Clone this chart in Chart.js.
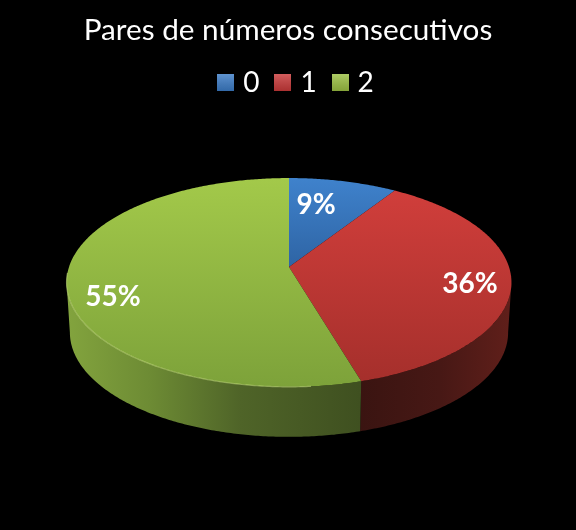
<!DOCTYPE html>
<html>
<head>
<meta charset="utf-8">
<style>
  html, body { margin: 0; padding: 0; background: #000; }
  canvas { display: block; }
</style>
<script src="https://cdn.jsdelivr.net/npm/chart.js@4/dist/chart.umd.min.js"></script>
</head>
<body>
<canvas id="pie" width="576" height="530"></canvas>
<script>
// datos del grafico
const categories = ['0', '1', '2'];
const counts = [1, 4, 6];
const legendColors = ['#3c7cc6', '#c93a3a', '#9cc043'];
const topFrom = ['#3f82cc', '#d33f3c', '#a3c94a'];
const topTo = ['#2e64a4', '#a42f2b', '#7da23a'];
const labelSpots = [[316, 205], [470, 284], [113, 297]];

// pseudo 3D: proyeccion en perspectiva del disco
const APEX_X = 289, APEX_Y = 267;
const PERSP = -0.148, TILT = 62.6, WIDTH = 220;
const DEPTH = 50, BOTTOM_SHRINK = 0.985;

const project = (r, theta) => {
  const u = r * Math.sin(theta);
  const v = -r * Math.cos(theta);
  const d = 1 + PERSP * v;
  return [APEX_X + WIDTH * u / d, (TILT * v + APEX_Y) / d];
};
const projectBottom = (theta) => {
  const [x, y] = project(1, theta);
  return [APEX_X + (x - APEX_X) * BOTTOM_SHRINK, y + DEPTH];
};

const legendBox = (color) => {
  const c = document.createElement('canvas');
  c.width = 17;
  c.height = 17;
  const g = c.getContext('2d');
  g.fillStyle = color;
  g.fillRect(0, 0, 17, 17);
  const shade = g.createLinearGradient(0, 0, 0, 17);
  shade.addColorStop(0, 'rgba(255,255,255,0.18)');
  shade.addColorStop(1, 'rgba(0,0,0,0.15)');
  g.fillStyle = shade;
  g.fillRect(0, 0, 17, 17);
  return c;
};

const wallSlice = (ctx, from, to, stops) => {
  const grad = ctx.createLinearGradient(stops[0][0], 0, stops[stops.length - 1][0], 0);
  const span = stops[stops.length - 1][0] - stops[0][0];
  stops.forEach(s => grad.addColorStop((s[0] - stops[0][0]) / span, s[1]));
  ctx.beginPath();
  for (let t = from; t <= to; t += 0.01) ctx.lineTo(...project(1, t));
  ctx.lineTo(...project(1, to));
  ctx.lineTo(...projectBottom(to));
  for (let t = to; t >= from; t -= 0.01) ctx.lineTo(...projectBottom(t));
  ctx.lineTo(...projectBottom(from));
  ctx.closePath();
  ctx.fillStyle = grad;
  ctx.fill();
};

const pie3d = {
  id: 'pie3d',
  // la leyenda del original no queda centrada
  afterLayout(chart) {
    chart.legend.left += 10;
    chart.legend.right += 10;
  },
  beforeDatasetsDraw(chart) {
    const ctx = chart.ctx;
    const arcs = chart.getDatasetMeta(0).data;
    const angle = a => a + Math.PI / 2;
    const edgeL = Math.PI * 2 - 1.72, edgeR = 1.72;

    ctx.save();
    // pared lateral
    wallSlice(ctx, edgeR, angle(arcs[1].endAngle), [[360, '#3a1411'], [440, '#471815'], [511, '#601f1a']]);
    wallSlice(ctx, angle(arcs[2].startAngle), edgeL, [[66, '#83a43e'], [150, '#6d8b34'], [240, '#4f6428'], [360, '#3f5020']]);

    // cara superior
    arcs.forEach((arc, i) => {
      const from = angle(arc.startAngle), to = angle(arc.endAngle);
      const first = project(1, from);
      ctx.beginPath();
      ctx.moveTo(APEX_X, APEX_Y);
      for (let t = from; t < to; t += 0.01) ctx.lineTo(...project(1, t));
      ctx.lineTo(...project(1, to));
      ctx.closePath();
      const grad = ctx.createLinearGradient(0, 178, 0, i === 0 ? first[1] + 89 : 387);
      grad.addColorStop(0, topFrom[i]);
      grad.addColorStop(1, topTo[i]);
      ctx.fillStyle = grad;
      ctx.fill();
    });

    // brillo en el borde del verde
    ctx.beginPath();
    const g2 = arcs[2];
    for (let t = angle(g2.startAngle) + 0.2; t <= edgeL + 0.1; t += 0.01) ctx.lineTo(...project(1, t));
    ctx.strokeStyle = 'rgba(200,225,130,0.55)';
    ctx.lineWidth = 1.2;
    ctx.stroke();

    // porcentajes
    ctx.font = 'bold 28px Lato';
    ctx.fillStyle = '#fff';
    ctx.textAlign = 'center';
    ctx.textBaseline = 'middle';
    arcs.forEach((arc, i) => {
      const pct = Math.round(arc.circumference / (Math.PI * 2) * 100);
      ctx.fillText(pct + '%', labelSpots[i][0], labelSpots[i][1]);
    });
    ctx.restore();
    return false;
  }
};

new Chart(document.getElementById('pie'), {
  type: 'pie',
  data: {
    labels: categories,
    datasets: [{ data: counts, backgroundColor: legendColors, borderWidth: 0 }]
  },
  plugins: [pie3d],
  options: {
    responsive: false,
    animation: false,
    rotation: 0,
    plugins: {
      tooltip: { enabled: false },
      title: {
        display: true,
        text: 'Pares de números consecutivos',
        color: '#fff',
        font: { family: 'Lato', size: 29.7, weight: 'normal' },
        padding: { top: 13, bottom: 0 }
      },
      legend: {
        position: 'top',
        labels: {
          color: '#fff',
          font: { family: 'Lato', size: 28 },
          usePointStyle: true,
          pointStyleWidth: 7,
          padding: 20,
          generateLabels: (chart) => categories.map((c, i) => ({
            text: c,
            fontColor: '#fff',
            pointStyle: legendBox(legendColors[i]),
            index: i
          }))
        }
      }
    }
  }
});
</script>
</body>
</html>
